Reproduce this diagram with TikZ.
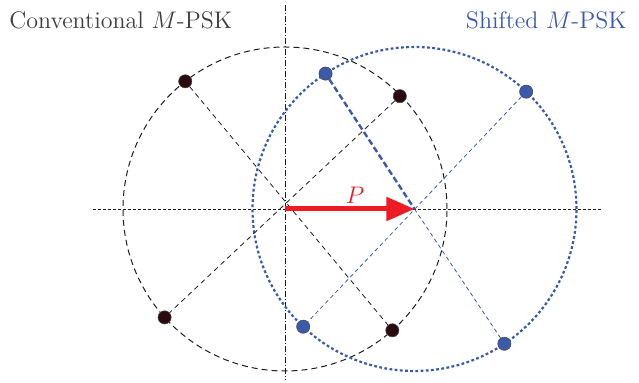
\documentclass[tikz,border=0pt]{standalone}
\usepackage{tikz}
\usetikzlibrary{arrows.meta,positioning,calc}
\usepackage{xcolor}
\usepackage{amsmath}
\definecolor{Ink}{HTML}{1D1D1D}
\definecolor{Dot}{HTML}{2B0A10}
\definecolor{Shift}{HTML}{3B5BAA}
\definecolor{PRed}{HTML}{ED1C24}
\tikzset{
  convcircle/.style={Ink,line width=0.5pt,dash pattern=on 3pt off 2pt},
  shiftcircle/.style={Shift,line width=1.1pt,dash pattern=on 1.4pt off 1.2pt},
  convline/.style={Ink,line width=0.4pt,dash pattern=on 2.5pt off 2pt},
  shiftline/.style={Shift,line width=0.4pt,dash pattern=on 2pt off 1.6pt},
  shiftbold/.style={Shift,line width=1.2pt,dash pattern=on 3pt off 1.5pt},
  convpt/.style={circle,minimum size=6.6pt,inner sep=0pt,fill=Dot,draw=Ink!80,line width=0.3pt},
  shiftpt/.style={circle,minimum size=6.6pt,inner sep=0pt,fill=Shift,draw=Ink!80,line width=0.3pt},
}

\begin{document}
\begin{tikzpicture}[x=0.5pt,y=0.5pt,>=stealth]
\useasboundingbox (-285,-174) rectangle (354,209);
% axes
\draw[Ink,line width=0.4pt,dash pattern=on 1.5pt off 1pt] (-192,0) -- (317,0);
\draw[Ink,line width=0.4pt,dash pattern=on 3pt off 1pt on 0.5pt off 1pt] (0,204) -- (0,-171);
% centres
\coordinate (O) at (0,0);
\coordinate (S) at (129.5,0);
% circles
\draw[convcircle] (O) circle (162);
\draw[shiftcircle] (S) circle (162);
% conventional points
\node[convpt] (c1) at ($(O)+(44.5:161)$) {};
\node[convpt] (c2) at ($(O)+(128:162)$) {};
\node[convpt] (c3) at ($(O)+(222:162)$) {};
\node[convpt] (c4) at ($(O)+(311.5:162)$) {};
\draw[convline] (c1) -- (c3);
\draw[convline] (c2) -- (c4);
% shifted points
\node[shiftpt] (s1) at ($(S)+(46.4:162)$) {};
\node[shiftpt] (s2) at ($(S)+(123.3:162)$) {};
\node[shiftpt] (s3) at ($(S)+(226.6:162)$) {};
\node[shiftpt] (s4) at ($(S)+(303.7:162)$) {};
\draw[shiftline] (s1) -- (s3);
\draw[shiftbold] (s2) -- (S);
\draw[shiftline] (S) -- (s4);
% shift vector
\draw[-{Triangle[length=14pt,width=11.5pt]},PRed,line width=2.5pt] (O) -- (S);
\node[text=PRed,font=\large] (plabel) at (70,14) {$P$};
% titles
\node[anchor=west,text=Ink!85,font=\large,inner sep=0pt] (convtitle) at (-276,189) {Conventional $M$-PSK};
\node[anchor=east,text=Shift,font=\large,inner sep=0pt] (shifttitle) at (342,189) {Shifted $M$-PSK};
\end{tikzpicture}
\end{document}
